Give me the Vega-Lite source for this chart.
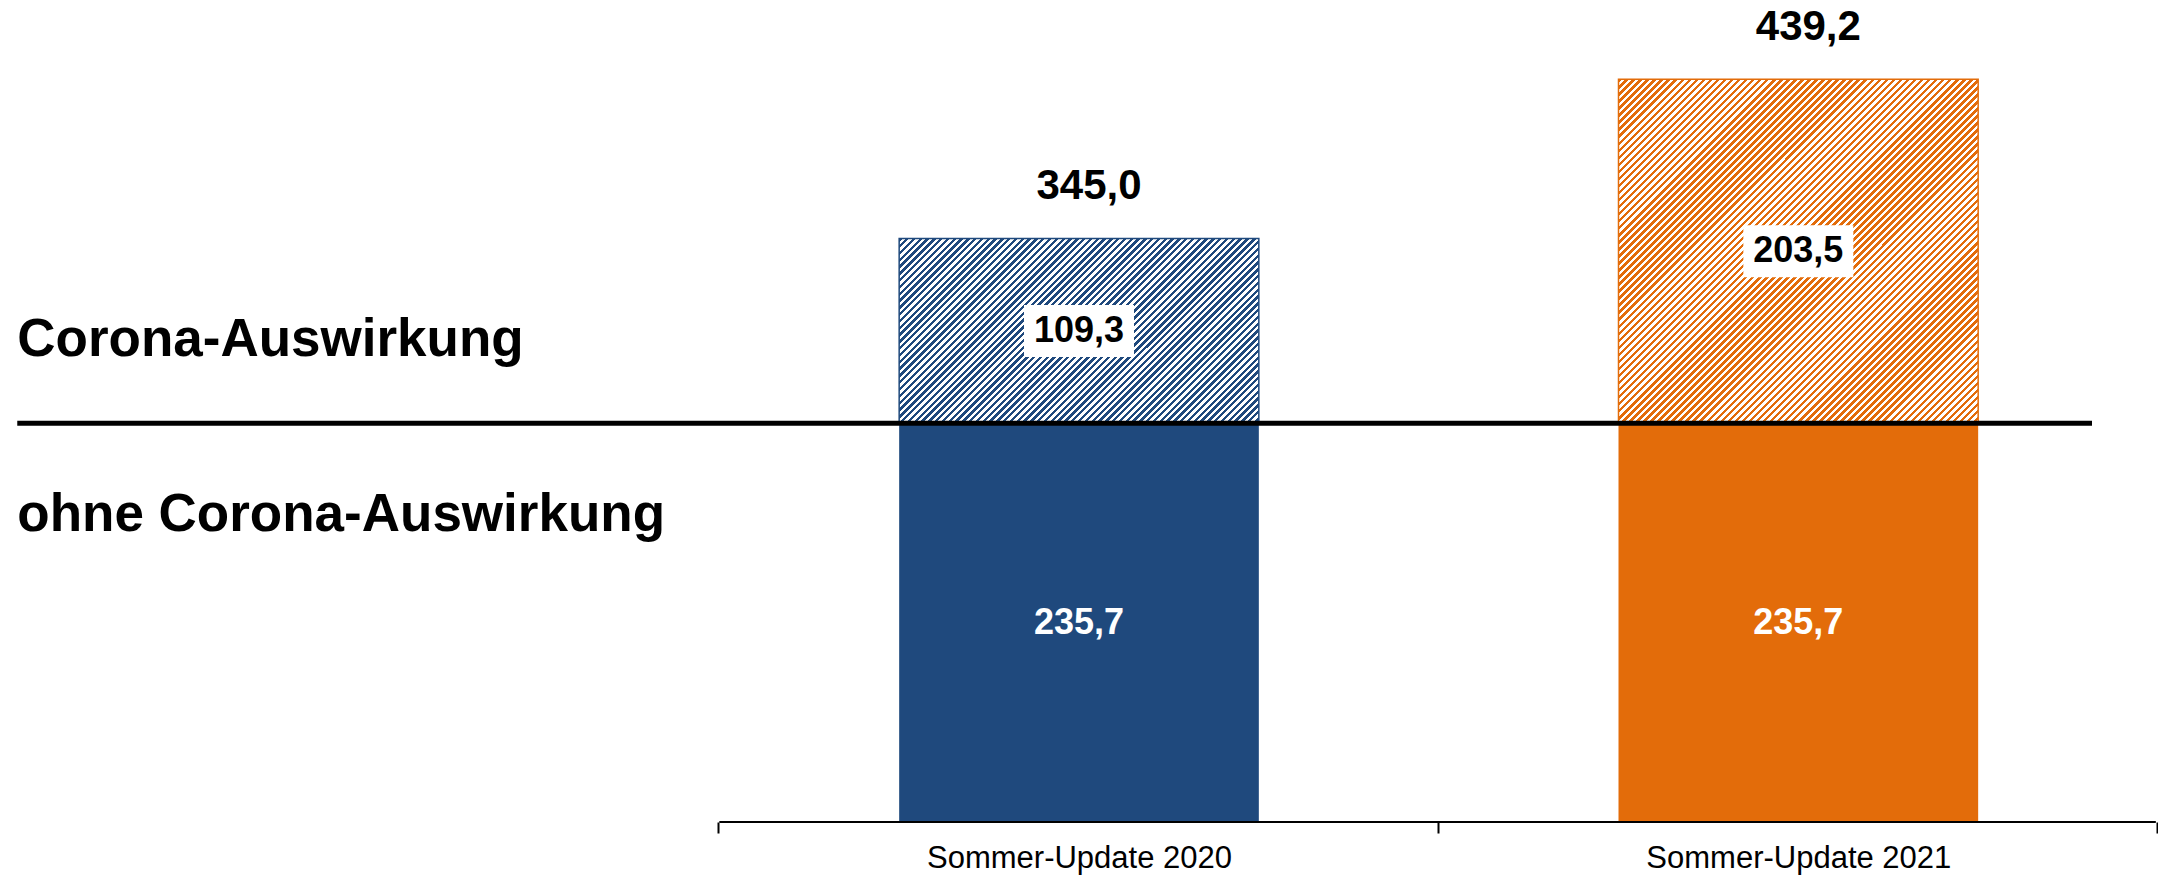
{
"$schema": "https://vega.github.io/schema/vega-lite/v6.json",
"width": 2158,
"height": 822,
"autosize": {"type": "none"},
"padding": {"left": 0, "top": 0, "right": 0, "bottom": 55},
"config": {
  "view": {"stroke": null},
  "locale": {"number": {"decimal": ",", "thousands": ".", "grouping": [3], "currency": ["", " €"]}},
  "axisX": {"domain": false, "grid": false, "tickSize": 11, "tickWidth": 2, "tickColor": "#000", "labelFont": "Liberation Sans", "labelFontSize": 31, "labelColor": "#000", "labelPadding": 10, "labelAngle": 0, "labelLimit": 0, "title": null}
},
"data": {"values": [
  {"jahr": "Sommer-Update 2020", "teil": "ohne", "wert": 235.7},
  {"jahr": "Sommer-Update 2020", "teil": "corona", "wert": 109.3},
  {"jahr": "Sommer-Update 2021", "teil": "ohne", "wert": 235.7},
  {"jahr": "Sommer-Update 2021", "teil": "corona", "wert": 203.5}
]},
"layer": [
  {
    "mark": {"type": "bar"},
    "encoding": {
      "x": {"field": "jahr", "type": "nominal", "scale": {"domain": ["label", "Sommer-Update 2020", "Sommer-Update 2021"], "paddingInner": 0.5, "paddingOuter": 0.25}, "axis": {"values": ["label", "Sommer-Update 2020", "Sommer-Update 2021"], "labelExpr": "datum.value === 'label' ? '' : datum.value", "tickOffset": 358.5, "labelOffset": -358.5, "title": null}},
      "y": {"field": "wert", "type": "quantitative", "stack": "zero", "scale": {"domain": [0, 486], "nice": false}, "axis": null},
      "detail": {"field": "teil", "type": "nominal"},
      "order": {"field": "teil", "type": "nominal", "sort": "descending"},
      "color": {"field": "jahr", "type": "nominal", "scale": {"domain": ["Sommer-Update 2020", "Sommer-Update 2021"], "range": ["#1f497d", "#e36c0a"]}, "legend": null},
      "opacity": {"condition": {"test": "datum.teil === 'ohne'", "value": 1}, "value": 0}
    }
  },
  {
    "mark": {"type": "bar", "stroke": "#1f497d", "strokeWidth": 1.5, "fill": {"gradient": "linear", "x1": 0, "y1": 0, "x2": 1.1976, "y2": 0.6156, "stops": [
{"offset":0,"color":"#1f497d"},{"offset":0.00625,"color":"#1f497d"},{"offset":0.00625,"color":"#fff"},{"offset":0.0125,"color":"#fff"},
{"offset":0.0125,"color":"#1f497d"},{"offset":0.01875,"color":"#1f497d"},{"offset":0.01875,"color":"#fff"},{"offset":0.025,"color":"#fff"},
{"offset":0.025,"color":"#1f497d"},{"offset":0.03125,"color":"#1f497d"},{"offset":0.03125,"color":"#fff"},{"offset":0.0375,"color":"#fff"},
{"offset":0.0375,"color":"#1f497d"},{"offset":0.04375,"color":"#1f497d"},{"offset":0.04375,"color":"#fff"},{"offset":0.05,"color":"#fff"},
{"offset":0.05,"color":"#1f497d"},{"offset":0.05625,"color":"#1f497d"},{"offset":0.05625,"color":"#fff"},{"offset":0.0625,"color":"#fff"},
{"offset":0.0625,"color":"#1f497d"},{"offset":0.06875,"color":"#1f497d"},{"offset":0.06875,"color":"#fff"},{"offset":0.075,"color":"#fff"},
{"offset":0.075,"color":"#1f497d"},{"offset":0.08125,"color":"#1f497d"},{"offset":0.08125,"color":"#fff"},{"offset":0.0875,"color":"#fff"},
{"offset":0.0875,"color":"#1f497d"},{"offset":0.09375,"color":"#1f497d"},{"offset":0.09375,"color":"#fff"},{"offset":0.1,"color":"#fff"},
{"offset":0.1,"color":"#1f497d"},{"offset":0.10625,"color":"#1f497d"},{"offset":0.10625,"color":"#fff"},{"offset":0.1125,"color":"#fff"},
{"offset":0.1125,"color":"#1f497d"},{"offset":0.11875,"color":"#1f497d"},{"offset":0.11875,"color":"#fff"},{"offset":0.125,"color":"#fff"},
{"offset":0.125,"color":"#1f497d"},{"offset":0.13125,"color":"#1f497d"},{"offset":0.13125,"color":"#fff"},{"offset":0.1375,"color":"#fff"},
{"offset":0.1375,"color":"#1f497d"},{"offset":0.14375,"color":"#1f497d"},{"offset":0.14375,"color":"#fff"},{"offset":0.15,"color":"#fff"},
{"offset":0.15,"color":"#1f497d"},{"offset":0.15625,"color":"#1f497d"},{"offset":0.15625,"color":"#fff"},{"offset":0.1625,"color":"#fff"},
{"offset":0.1625,"color":"#1f497d"},{"offset":0.16875,"color":"#1f497d"},{"offset":0.16875,"color":"#fff"},{"offset":0.175,"color":"#fff"},
{"offset":0.175,"color":"#1f497d"},{"offset":0.18125,"color":"#1f497d"},{"offset":0.18125,"color":"#fff"},{"offset":0.1875,"color":"#fff"},
{"offset":0.1875,"color":"#1f497d"},{"offset":0.19375,"color":"#1f497d"},{"offset":0.19375,"color":"#fff"},{"offset":0.2,"color":"#fff"},
{"offset":0.2,"color":"#1f497d"},{"offset":0.20625,"color":"#1f497d"},{"offset":0.20625,"color":"#fff"},{"offset":0.2125,"color":"#fff"},
{"offset":0.2125,"color":"#1f497d"},{"offset":0.21875,"color":"#1f497d"},{"offset":0.21875,"color":"#fff"},{"offset":0.225,"color":"#fff"},
{"offset":0.225,"color":"#1f497d"},{"offset":0.23125,"color":"#1f497d"},{"offset":0.23125,"color":"#fff"},{"offset":0.2375,"color":"#fff"},
{"offset":0.2375,"color":"#1f497d"},{"offset":0.24375,"color":"#1f497d"},{"offset":0.24375,"color":"#fff"},{"offset":0.25,"color":"#fff"},
{"offset":0.25,"color":"#1f497d"},{"offset":0.25625,"color":"#1f497d"},{"offset":0.25625,"color":"#fff"},{"offset":0.2625,"color":"#fff"},
{"offset":0.2625,"color":"#1f497d"},{"offset":0.26875,"color":"#1f497d"},{"offset":0.26875,"color":"#fff"},{"offset":0.275,"color":"#fff"},
{"offset":0.275,"color":"#1f497d"},{"offset":0.28125,"color":"#1f497d"},{"offset":0.28125,"color":"#fff"},{"offset":0.2875,"color":"#fff"},
{"offset":0.2875,"color":"#1f497d"},{"offset":0.29375,"color":"#1f497d"},{"offset":0.29375,"color":"#fff"},{"offset":0.3,"color":"#fff"},
{"offset":0.3,"color":"#1f497d"},{"offset":0.30625,"color":"#1f497d"},{"offset":0.30625,"color":"#fff"},{"offset":0.3125,"color":"#fff"},
{"offset":0.3125,"color":"#1f497d"},{"offset":0.31875,"color":"#1f497d"},{"offset":0.31875,"color":"#fff"},{"offset":0.325,"color":"#fff"},
{"offset":0.325,"color":"#1f497d"},{"offset":0.33125,"color":"#1f497d"},{"offset":0.33125,"color":"#fff"},{"offset":0.3375,"color":"#fff"},
{"offset":0.3375,"color":"#1f497d"},{"offset":0.34375,"color":"#1f497d"},{"offset":0.34375,"color":"#fff"},{"offset":0.35,"color":"#fff"},
{"offset":0.35,"color":"#1f497d"},{"offset":0.35625,"color":"#1f497d"},{"offset":0.35625,"color":"#fff"},{"offset":0.3625,"color":"#fff"},
{"offset":0.3625,"color":"#1f497d"},{"offset":0.36875,"color":"#1f497d"},{"offset":0.36875,"color":"#fff"},{"offset":0.375,"color":"#fff"},
{"offset":0.375,"color":"#1f497d"},{"offset":0.38125,"color":"#1f497d"},{"offset":0.38125,"color":"#fff"},{"offset":0.3875,"color":"#fff"},
{"offset":0.3875,"color":"#1f497d"},{"offset":0.39375,"color":"#1f497d"},{"offset":0.39375,"color":"#fff"},{"offset":0.4,"color":"#fff"},
{"offset":0.4,"color":"#1f497d"},{"offset":0.40625,"color":"#1f497d"},{"offset":0.40625,"color":"#fff"},{"offset":0.4125,"color":"#fff"},
{"offset":0.4125,"color":"#1f497d"},{"offset":0.41875,"color":"#1f497d"},{"offset":0.41875,"color":"#fff"},{"offset":0.425,"color":"#fff"},
{"offset":0.425,"color":"#1f497d"},{"offset":0.43125,"color":"#1f497d"},{"offset":0.43125,"color":"#fff"},{"offset":0.4375,"color":"#fff"},
{"offset":0.4375,"color":"#1f497d"},{"offset":0.44375,"color":"#1f497d"},{"offset":0.44375,"color":"#fff"},{"offset":0.45,"color":"#fff"},
{"offset":0.45,"color":"#1f497d"},{"offset":0.45625,"color":"#1f497d"},{"offset":0.45625,"color":"#fff"},{"offset":0.4625,"color":"#fff"},
{"offset":0.4625,"color":"#1f497d"},{"offset":0.46875,"color":"#1f497d"},{"offset":0.46875,"color":"#fff"},{"offset":0.475,"color":"#fff"},
{"offset":0.475,"color":"#1f497d"},{"offset":0.48125,"color":"#1f497d"},{"offset":0.48125,"color":"#fff"},{"offset":0.4875,"color":"#fff"},
{"offset":0.4875,"color":"#1f497d"},{"offset":0.49375,"color":"#1f497d"},{"offset":0.49375,"color":"#fff"},{"offset":0.5,"color":"#fff"},
{"offset":0.5,"color":"#1f497d"},{"offset":0.50625,"color":"#1f497d"},{"offset":0.50625,"color":"#fff"},{"offset":0.5125,"color":"#fff"},
{"offset":0.5125,"color":"#1f497d"},{"offset":0.51875,"color":"#1f497d"},{"offset":0.51875,"color":"#fff"},{"offset":0.525,"color":"#fff"},
{"offset":0.525,"color":"#1f497d"},{"offset":0.53125,"color":"#1f497d"},{"offset":0.53125,"color":"#fff"},{"offset":0.5375,"color":"#fff"},
{"offset":0.5375,"color":"#1f497d"},{"offset":0.54375,"color":"#1f497d"},{"offset":0.54375,"color":"#fff"},{"offset":0.55,"color":"#fff"},
{"offset":0.55,"color":"#1f497d"},{"offset":0.55625,"color":"#1f497d"},{"offset":0.55625,"color":"#fff"},{"offset":0.5625,"color":"#fff"},
{"offset":0.5625,"color":"#1f497d"},{"offset":0.56875,"color":"#1f497d"},{"offset":0.56875,"color":"#fff"},{"offset":0.575,"color":"#fff"},
{"offset":0.575,"color":"#1f497d"},{"offset":0.58125,"color":"#1f497d"},{"offset":0.58125,"color":"#fff"},{"offset":0.5875,"color":"#fff"},
{"offset":0.5875,"color":"#1f497d"},{"offset":0.59375,"color":"#1f497d"},{"offset":0.59375,"color":"#fff"},{"offset":0.6,"color":"#fff"},
{"offset":0.6,"color":"#1f497d"},{"offset":0.60625,"color":"#1f497d"},{"offset":0.60625,"color":"#fff"},{"offset":0.6125,"color":"#fff"},
{"offset":0.6125,"color":"#1f497d"},{"offset":0.61875,"color":"#1f497d"},{"offset":0.61875,"color":"#fff"},{"offset":0.625,"color":"#fff"},
{"offset":0.625,"color":"#1f497d"},{"offset":0.63125,"color":"#1f497d"},{"offset":0.63125,"color":"#fff"},{"offset":0.6375,"color":"#fff"},
{"offset":0.6375,"color":"#1f497d"},{"offset":0.64375,"color":"#1f497d"},{"offset":0.64375,"color":"#fff"},{"offset":0.65,"color":"#fff"},
{"offset":0.65,"color":"#1f497d"},{"offset":0.65625,"color":"#1f497d"},{"offset":0.65625,"color":"#fff"},{"offset":0.6625,"color":"#fff"},
{"offset":0.6625,"color":"#1f497d"},{"offset":0.66875,"color":"#1f497d"},{"offset":0.66875,"color":"#fff"},{"offset":0.675,"color":"#fff"},
{"offset":0.675,"color":"#1f497d"},{"offset":0.68125,"color":"#1f497d"},{"offset":0.68125,"color":"#fff"},{"offset":0.6875,"color":"#fff"},
{"offset":0.6875,"color":"#1f497d"},{"offset":0.69375,"color":"#1f497d"},{"offset":0.69375,"color":"#fff"},{"offset":0.7,"color":"#fff"},
{"offset":0.7,"color":"#1f497d"},{"offset":0.70625,"color":"#1f497d"},{"offset":0.70625,"color":"#fff"},{"offset":0.7125,"color":"#fff"},
{"offset":0.7125,"color":"#1f497d"},{"offset":0.71875,"color":"#1f497d"},{"offset":0.71875,"color":"#fff"},{"offset":0.725,"color":"#fff"},
{"offset":0.725,"color":"#1f497d"},{"offset":0.73125,"color":"#1f497d"},{"offset":0.73125,"color":"#fff"},{"offset":0.7375,"color":"#fff"},
{"offset":0.7375,"color":"#1f497d"},{"offset":0.74375,"color":"#1f497d"},{"offset":0.74375,"color":"#fff"},{"offset":0.75,"color":"#fff"},
{"offset":0.75,"color":"#1f497d"},{"offset":0.75625,"color":"#1f497d"},{"offset":0.75625,"color":"#fff"},{"offset":0.7625,"color":"#fff"},
{"offset":0.7625,"color":"#1f497d"},{"offset":0.76875,"color":"#1f497d"},{"offset":0.76875,"color":"#fff"},{"offset":0.775,"color":"#fff"},
{"offset":0.775,"color":"#1f497d"},{"offset":0.78125,"color":"#1f497d"},{"offset":0.78125,"color":"#fff"},{"offset":0.7875,"color":"#fff"},
{"offset":0.7875,"color":"#1f497d"},{"offset":0.79375,"color":"#1f497d"},{"offset":0.79375,"color":"#fff"},{"offset":0.8,"color":"#fff"},
{"offset":0.8,"color":"#1f497d"},{"offset":0.80625,"color":"#1f497d"},{"offset":0.80625,"color":"#fff"},{"offset":0.8125,"color":"#fff"},
{"offset":0.8125,"color":"#1f497d"},{"offset":0.81875,"color":"#1f497d"},{"offset":0.81875,"color":"#fff"},{"offset":0.825,"color":"#fff"},
{"offset":0.825,"color":"#1f497d"},{"offset":0.83125,"color":"#1f497d"},{"offset":0.83125,"color":"#fff"},{"offset":0.8375,"color":"#fff"},
{"offset":0.8375,"color":"#1f497d"},{"offset":0.84375,"color":"#1f497d"},{"offset":0.84375,"color":"#fff"},{"offset":0.85,"color":"#fff"},
{"offset":0.85,"color":"#1f497d"},{"offset":0.85625,"color":"#1f497d"},{"offset":0.85625,"color":"#fff"},{"offset":0.8625,"color":"#fff"},
{"offset":0.8625,"color":"#1f497d"},{"offset":0.86875,"color":"#1f497d"},{"offset":0.86875,"color":"#fff"},{"offset":0.875,"color":"#fff"},
{"offset":0.875,"color":"#1f497d"},{"offset":0.88125,"color":"#1f497d"},{"offset":0.88125,"color":"#fff"},{"offset":0.8875,"color":"#fff"},
{"offset":0.8875,"color":"#1f497d"},{"offset":0.89375,"color":"#1f497d"},{"offset":0.89375,"color":"#fff"},{"offset":0.9,"color":"#fff"},
{"offset":0.9,"color":"#1f497d"},{"offset":0.90625,"color":"#1f497d"},{"offset":0.90625,"color":"#fff"},{"offset":0.9125,"color":"#fff"},
{"offset":0.9125,"color":"#1f497d"},{"offset":0.91875,"color":"#1f497d"},{"offset":0.91875,"color":"#fff"},{"offset":0.925,"color":"#fff"},
{"offset":0.925,"color":"#1f497d"},{"offset":0.93125,"color":"#1f497d"},{"offset":0.93125,"color":"#fff"},{"offset":0.9375,"color":"#fff"},
{"offset":0.9375,"color":"#1f497d"},{"offset":0.94375,"color":"#1f497d"},{"offset":0.94375,"color":"#fff"},{"offset":0.95,"color":"#fff"},
{"offset":0.95,"color":"#1f497d"},{"offset":0.95625,"color":"#1f497d"},{"offset":0.95625,"color":"#fff"},{"offset":0.9625,"color":"#fff"},
{"offset":0.9625,"color":"#1f497d"},{"offset":0.96875,"color":"#1f497d"},{"offset":0.96875,"color":"#fff"},{"offset":0.975,"color":"#fff"},
{"offset":0.975,"color":"#1f497d"},{"offset":0.98125,"color":"#1f497d"},{"offset":0.98125,"color":"#fff"},{"offset":0.9875,"color":"#fff"},
{"offset":0.9875,"color":"#1f497d"},{"offset":0.99375,"color":"#1f497d"},{"offset":0.99375,"color":"#fff"},{"offset":1,"color":"#fff"}
    ]}},
    "encoding": {
      "x": {"field": "jahr", "type": "nominal"},
      "y": {"field": "wert", "type": "quantitative", "stack": "zero", "axis": null},
      "detail": {"field": "teil", "type": "nominal"},
      "order": {"field": "teil", "type": "nominal", "sort": "descending"},
      "opacity": {"condition": {"test": "datum.teil === 'corona' && datum.jahr === 'Sommer-Update 2020'", "value": 1}, "value": 0}
    }
  },
  {
    "mark": {"type": "bar", "stroke": "#e36c0a", "strokeWidth": 1.5, "fill": {"gradient": "linear", "x1": 0, "y1": 0, "x2": 1.0215, "y2": 0.9775, "stops": [
{"offset":0,"color":"#e36c0a"},{"offset":0.005,"color":"#e36c0a"},{"offset":0.005,"color":"#fff"},{"offset":0.01,"color":"#fff"},
{"offset":0.01,"color":"#e36c0a"},{"offset":0.015,"color":"#e36c0a"},{"offset":0.015,"color":"#fff"},{"offset":0.02,"color":"#fff"},
{"offset":0.02,"color":"#e36c0a"},{"offset":0.025,"color":"#e36c0a"},{"offset":0.025,"color":"#fff"},{"offset":0.03,"color":"#fff"},
{"offset":0.03,"color":"#e36c0a"},{"offset":0.035,"color":"#e36c0a"},{"offset":0.035,"color":"#fff"},{"offset":0.04,"color":"#fff"},
{"offset":0.04,"color":"#e36c0a"},{"offset":0.045,"color":"#e36c0a"},{"offset":0.045,"color":"#fff"},{"offset":0.05,"color":"#fff"},
{"offset":0.05,"color":"#e36c0a"},{"offset":0.055,"color":"#e36c0a"},{"offset":0.055,"color":"#fff"},{"offset":0.06,"color":"#fff"},
{"offset":0.06,"color":"#e36c0a"},{"offset":0.065,"color":"#e36c0a"},{"offset":0.065,"color":"#fff"},{"offset":0.07,"color":"#fff"},
{"offset":0.07,"color":"#e36c0a"},{"offset":0.075,"color":"#e36c0a"},{"offset":0.075,"color":"#fff"},{"offset":0.08,"color":"#fff"},
{"offset":0.08,"color":"#e36c0a"},{"offset":0.085,"color":"#e36c0a"},{"offset":0.085,"color":"#fff"},{"offset":0.09,"color":"#fff"},
{"offset":0.09,"color":"#e36c0a"},{"offset":0.095,"color":"#e36c0a"},{"offset":0.095,"color":"#fff"},{"offset":0.1,"color":"#fff"},
{"offset":0.1,"color":"#e36c0a"},{"offset":0.105,"color":"#e36c0a"},{"offset":0.105,"color":"#fff"},{"offset":0.11,"color":"#fff"},
{"offset":0.11,"color":"#e36c0a"},{"offset":0.115,"color":"#e36c0a"},{"offset":0.115,"color":"#fff"},{"offset":0.12,"color":"#fff"},
{"offset":0.12,"color":"#e36c0a"},{"offset":0.125,"color":"#e36c0a"},{"offset":0.125,"color":"#fff"},{"offset":0.13,"color":"#fff"},
{"offset":0.13,"color":"#e36c0a"},{"offset":0.135,"color":"#e36c0a"},{"offset":0.135,"color":"#fff"},{"offset":0.14,"color":"#fff"},
{"offset":0.14,"color":"#e36c0a"},{"offset":0.145,"color":"#e36c0a"},{"offset":0.145,"color":"#fff"},{"offset":0.15,"color":"#fff"},
{"offset":0.15,"color":"#e36c0a"},{"offset":0.155,"color":"#e36c0a"},{"offset":0.155,"color":"#fff"},{"offset":0.16,"color":"#fff"},
{"offset":0.16,"color":"#e36c0a"},{"offset":0.165,"color":"#e36c0a"},{"offset":0.165,"color":"#fff"},{"offset":0.17,"color":"#fff"},
{"offset":0.17,"color":"#e36c0a"},{"offset":0.175,"color":"#e36c0a"},{"offset":0.175,"color":"#fff"},{"offset":0.18,"color":"#fff"},
{"offset":0.18,"color":"#e36c0a"},{"offset":0.185,"color":"#e36c0a"},{"offset":0.185,"color":"#fff"},{"offset":0.19,"color":"#fff"},
{"offset":0.19,"color":"#e36c0a"},{"offset":0.195,"color":"#e36c0a"},{"offset":0.195,"color":"#fff"},{"offset":0.2,"color":"#fff"},
{"offset":0.2,"color":"#e36c0a"},{"offset":0.205,"color":"#e36c0a"},{"offset":0.205,"color":"#fff"},{"offset":0.21,"color":"#fff"},
{"offset":0.21,"color":"#e36c0a"},{"offset":0.215,"color":"#e36c0a"},{"offset":0.215,"color":"#fff"},{"offset":0.22,"color":"#fff"},
{"offset":0.22,"color":"#e36c0a"},{"offset":0.225,"color":"#e36c0a"},{"offset":0.225,"color":"#fff"},{"offset":0.23,"color":"#fff"},
{"offset":0.23,"color":"#e36c0a"},{"offset":0.235,"color":"#e36c0a"},{"offset":0.235,"color":"#fff"},{"offset":0.24,"color":"#fff"},
{"offset":0.24,"color":"#e36c0a"},{"offset":0.245,"color":"#e36c0a"},{"offset":0.245,"color":"#fff"},{"offset":0.25,"color":"#fff"},
{"offset":0.25,"color":"#e36c0a"},{"offset":0.255,"color":"#e36c0a"},{"offset":0.255,"color":"#fff"},{"offset":0.26,"color":"#fff"},
{"offset":0.26,"color":"#e36c0a"},{"offset":0.265,"color":"#e36c0a"},{"offset":0.265,"color":"#fff"},{"offset":0.27,"color":"#fff"},
{"offset":0.27,"color":"#e36c0a"},{"offset":0.275,"color":"#e36c0a"},{"offset":0.275,"color":"#fff"},{"offset":0.28,"color":"#fff"},
{"offset":0.28,"color":"#e36c0a"},{"offset":0.285,"color":"#e36c0a"},{"offset":0.285,"color":"#fff"},{"offset":0.29,"color":"#fff"},
{"offset":0.29,"color":"#e36c0a"},{"offset":0.295,"color":"#e36c0a"},{"offset":0.295,"color":"#fff"},{"offset":0.3,"color":"#fff"},
{"offset":0.3,"color":"#e36c0a"},{"offset":0.305,"color":"#e36c0a"},{"offset":0.305,"color":"#fff"},{"offset":0.31,"color":"#fff"},
{"offset":0.31,"color":"#e36c0a"},{"offset":0.315,"color":"#e36c0a"},{"offset":0.315,"color":"#fff"},{"offset":0.32,"color":"#fff"},
{"offset":0.32,"color":"#e36c0a"},{"offset":0.325,"color":"#e36c0a"},{"offset":0.325,"color":"#fff"},{"offset":0.33,"color":"#fff"},
{"offset":0.33,"color":"#e36c0a"},{"offset":0.335,"color":"#e36c0a"},{"offset":0.335,"color":"#fff"},{"offset":0.34,"color":"#fff"},
{"offset":0.34,"color":"#e36c0a"},{"offset":0.345,"color":"#e36c0a"},{"offset":0.345,"color":"#fff"},{"offset":0.35,"color":"#fff"},
{"offset":0.35,"color":"#e36c0a"},{"offset":0.355,"color":"#e36c0a"},{"offset":0.355,"color":"#fff"},{"offset":0.36,"color":"#fff"},
{"offset":0.36,"color":"#e36c0a"},{"offset":0.365,"color":"#e36c0a"},{"offset":0.365,"color":"#fff"},{"offset":0.37,"color":"#fff"},
{"offset":0.37,"color":"#e36c0a"},{"offset":0.375,"color":"#e36c0a"},{"offset":0.375,"color":"#fff"},{"offset":0.38,"color":"#fff"},
{"offset":0.38,"color":"#e36c0a"},{"offset":0.385,"color":"#e36c0a"},{"offset":0.385,"color":"#fff"},{"offset":0.39,"color":"#fff"},
{"offset":0.39,"color":"#e36c0a"},{"offset":0.395,"color":"#e36c0a"},{"offset":0.395,"color":"#fff"},{"offset":0.4,"color":"#fff"},
{"offset":0.4,"color":"#e36c0a"},{"offset":0.405,"color":"#e36c0a"},{"offset":0.405,"color":"#fff"},{"offset":0.41,"color":"#fff"},
{"offset":0.41,"color":"#e36c0a"},{"offset":0.415,"color":"#e36c0a"},{"offset":0.415,"color":"#fff"},{"offset":0.42,"color":"#fff"},
{"offset":0.42,"color":"#e36c0a"},{"offset":0.425,"color":"#e36c0a"},{"offset":0.425,"color":"#fff"},{"offset":0.43,"color":"#fff"},
{"offset":0.43,"color":"#e36c0a"},{"offset":0.435,"color":"#e36c0a"},{"offset":0.435,"color":"#fff"},{"offset":0.44,"color":"#fff"},
{"offset":0.44,"color":"#e36c0a"},{"offset":0.445,"color":"#e36c0a"},{"offset":0.445,"color":"#fff"},{"offset":0.45,"color":"#fff"},
{"offset":0.45,"color":"#e36c0a"},{"offset":0.455,"color":"#e36c0a"},{"offset":0.455,"color":"#fff"},{"offset":0.46,"color":"#fff"},
{"offset":0.46,"color":"#e36c0a"},{"offset":0.465,"color":"#e36c0a"},{"offset":0.465,"color":"#fff"},{"offset":0.47,"color":"#fff"},
{"offset":0.47,"color":"#e36c0a"},{"offset":0.475,"color":"#e36c0a"},{"offset":0.475,"color":"#fff"},{"offset":0.48,"color":"#fff"},
{"offset":0.48,"color":"#e36c0a"},{"offset":0.485,"color":"#e36c0a"},{"offset":0.485,"color":"#fff"},{"offset":0.49,"color":"#fff"},
{"offset":0.49,"color":"#e36c0a"},{"offset":0.495,"color":"#e36c0a"},{"offset":0.495,"color":"#fff"},{"offset":0.5,"color":"#fff"},
{"offset":0.5,"color":"#e36c0a"},{"offset":0.505,"color":"#e36c0a"},{"offset":0.505,"color":"#fff"},{"offset":0.51,"color":"#fff"},
{"offset":0.51,"color":"#e36c0a"},{"offset":0.515,"color":"#e36c0a"},{"offset":0.515,"color":"#fff"},{"offset":0.52,"color":"#fff"},
{"offset":0.52,"color":"#e36c0a"},{"offset":0.525,"color":"#e36c0a"},{"offset":0.525,"color":"#fff"},{"offset":0.53,"color":"#fff"},
{"offset":0.53,"color":"#e36c0a"},{"offset":0.535,"color":"#e36c0a"},{"offset":0.535,"color":"#fff"},{"offset":0.54,"color":"#fff"},
{"offset":0.54,"color":"#e36c0a"},{"offset":0.545,"color":"#e36c0a"},{"offset":0.545,"color":"#fff"},{"offset":0.55,"color":"#fff"},
{"offset":0.55,"color":"#e36c0a"},{"offset":0.555,"color":"#e36c0a"},{"offset":0.555,"color":"#fff"},{"offset":0.56,"color":"#fff"},
{"offset":0.56,"color":"#e36c0a"},{"offset":0.565,"color":"#e36c0a"},{"offset":0.565,"color":"#fff"},{"offset":0.57,"color":"#fff"},
{"offset":0.57,"color":"#e36c0a"},{"offset":0.575,"color":"#e36c0a"},{"offset":0.575,"color":"#fff"},{"offset":0.58,"color":"#fff"},
{"offset":0.58,"color":"#e36c0a"},{"offset":0.585,"color":"#e36c0a"},{"offset":0.585,"color":"#fff"},{"offset":0.59,"color":"#fff"},
{"offset":0.59,"color":"#e36c0a"},{"offset":0.595,"color":"#e36c0a"},{"offset":0.595,"color":"#fff"},{"offset":0.6,"color":"#fff"},
{"offset":0.6,"color":"#e36c0a"},{"offset":0.605,"color":"#e36c0a"},{"offset":0.605,"color":"#fff"},{"offset":0.61,"color":"#fff"},
{"offset":0.61,"color":"#e36c0a"},{"offset":0.615,"color":"#e36c0a"},{"offset":0.615,"color":"#fff"},{"offset":0.62,"color":"#fff"},
{"offset":0.62,"color":"#e36c0a"},{"offset":0.625,"color":"#e36c0a"},{"offset":0.625,"color":"#fff"},{"offset":0.63,"color":"#fff"},
{"offset":0.63,"color":"#e36c0a"},{"offset":0.635,"color":"#e36c0a"},{"offset":0.635,"color":"#fff"},{"offset":0.64,"color":"#fff"},
{"offset":0.64,"color":"#e36c0a"},{"offset":0.645,"color":"#e36c0a"},{"offset":0.645,"color":"#fff"},{"offset":0.65,"color":"#fff"},
{"offset":0.65,"color":"#e36c0a"},{"offset":0.655,"color":"#e36c0a"},{"offset":0.655,"color":"#fff"},{"offset":0.66,"color":"#fff"},
{"offset":0.66,"color":"#e36c0a"},{"offset":0.665,"color":"#e36c0a"},{"offset":0.665,"color":"#fff"},{"offset":0.67,"color":"#fff"},
{"offset":0.67,"color":"#e36c0a"},{"offset":0.675,"color":"#e36c0a"},{"offset":0.675,"color":"#fff"},{"offset":0.68,"color":"#fff"},
{"offset":0.68,"color":"#e36c0a"},{"offset":0.685,"color":"#e36c0a"},{"offset":0.685,"color":"#fff"},{"offset":0.69,"color":"#fff"},
{"offset":0.69,"color":"#e36c0a"},{"offset":0.695,"color":"#e36c0a"},{"offset":0.695,"color":"#fff"},{"offset":0.7,"color":"#fff"},
{"offset":0.7,"color":"#e36c0a"},{"offset":0.705,"color":"#e36c0a"},{"offset":0.705,"color":"#fff"},{"offset":0.71,"color":"#fff"},
{"offset":0.71,"color":"#e36c0a"},{"offset":0.715,"color":"#e36c0a"},{"offset":0.715,"color":"#fff"},{"offset":0.72,"color":"#fff"},
{"offset":0.72,"color":"#e36c0a"},{"offset":0.725,"color":"#e36c0a"},{"offset":0.725,"color":"#fff"},{"offset":0.73,"color":"#fff"},
{"offset":0.73,"color":"#e36c0a"},{"offset":0.735,"color":"#e36c0a"},{"offset":0.735,"color":"#fff"},{"offset":0.74,"color":"#fff"},
{"offset":0.74,"color":"#e36c0a"},{"offset":0.745,"color":"#e36c0a"},{"offset":0.745,"color":"#fff"},{"offset":0.75,"color":"#fff"},
{"offset":0.75,"color":"#e36c0a"},{"offset":0.755,"color":"#e36c0a"},{"offset":0.755,"color":"#fff"},{"offset":0.76,"color":"#fff"},
{"offset":0.76,"color":"#e36c0a"},{"offset":0.765,"color":"#e36c0a"},{"offset":0.765,"color":"#fff"},{"offset":0.77,"color":"#fff"},
{"offset":0.77,"color":"#e36c0a"},{"offset":0.775,"color":"#e36c0a"},{"offset":0.775,"color":"#fff"},{"offset":0.78,"color":"#fff"},
{"offset":0.78,"color":"#e36c0a"},{"offset":0.785,"color":"#e36c0a"},{"offset":0.785,"color":"#fff"},{"offset":0.79,"color":"#fff"},
{"offset":0.79,"color":"#e36c0a"},{"offset":0.795,"color":"#e36c0a"},{"offset":0.795,"color":"#fff"},{"offset":0.8,"color":"#fff"},
{"offset":0.8,"color":"#e36c0a"},{"offset":0.805,"color":"#e36c0a"},{"offset":0.805,"color":"#fff"},{"offset":0.81,"color":"#fff"},
{"offset":0.81,"color":"#e36c0a"},{"offset":0.815,"color":"#e36c0a"},{"offset":0.815,"color":"#fff"},{"offset":0.82,"color":"#fff"},
{"offset":0.82,"color":"#e36c0a"},{"offset":0.825,"color":"#e36c0a"},{"offset":0.825,"color":"#fff"},{"offset":0.83,"color":"#fff"},
{"offset":0.83,"color":"#e36c0a"},{"offset":0.835,"color":"#e36c0a"},{"offset":0.835,"color":"#fff"},{"offset":0.84,"color":"#fff"},
{"offset":0.84,"color":"#e36c0a"},{"offset":0.845,"color":"#e36c0a"},{"offset":0.845,"color":"#fff"},{"offset":0.85,"color":"#fff"},
{"offset":0.85,"color":"#e36c0a"},{"offset":0.855,"color":"#e36c0a"},{"offset":0.855,"color":"#fff"},{"offset":0.86,"color":"#fff"},
{"offset":0.86,"color":"#e36c0a"},{"offset":0.865,"color":"#e36c0a"},{"offset":0.865,"color":"#fff"},{"offset":0.87,"color":"#fff"},
{"offset":0.87,"color":"#e36c0a"},{"offset":0.875,"color":"#e36c0a"},{"offset":0.875,"color":"#fff"},{"offset":0.88,"color":"#fff"},
{"offset":0.88,"color":"#e36c0a"},{"offset":0.885,"color":"#e36c0a"},{"offset":0.885,"color":"#fff"},{"offset":0.89,"color":"#fff"},
{"offset":0.89,"color":"#e36c0a"},{"offset":0.895,"color":"#e36c0a"},{"offset":0.895,"color":"#fff"},{"offset":0.9,"color":"#fff"},
{"offset":0.9,"color":"#e36c0a"},{"offset":0.905,"color":"#e36c0a"},{"offset":0.905,"color":"#fff"},{"offset":0.91,"color":"#fff"},
{"offset":0.91,"color":"#e36c0a"},{"offset":0.915,"color":"#e36c0a"},{"offset":0.915,"color":"#fff"},{"offset":0.92,"color":"#fff"},
{"offset":0.92,"color":"#e36c0a"},{"offset":0.925,"color":"#e36c0a"},{"offset":0.925,"color":"#fff"},{"offset":0.93,"color":"#fff"},
{"offset":0.93,"color":"#e36c0a"},{"offset":0.935,"color":"#e36c0a"},{"offset":0.935,"color":"#fff"},{"offset":0.94,"color":"#fff"},
{"offset":0.94,"color":"#e36c0a"},{"offset":0.945,"color":"#e36c0a"},{"offset":0.945,"color":"#fff"},{"offset":0.95,"color":"#fff"},
{"offset":0.95,"color":"#e36c0a"},{"offset":0.955,"color":"#e36c0a"},{"offset":0.955,"color":"#fff"},{"offset":0.96,"color":"#fff"},
{"offset":0.96,"color":"#e36c0a"},{"offset":0.965,"color":"#e36c0a"},{"offset":0.965,"color":"#fff"},{"offset":0.97,"color":"#fff"},
{"offset":0.97,"color":"#e36c0a"},{"offset":0.975,"color":"#e36c0a"},{"offset":0.975,"color":"#fff"},{"offset":0.98,"color":"#fff"},
{"offset":0.98,"color":"#e36c0a"},{"offset":0.985,"color":"#e36c0a"},{"offset":0.985,"color":"#fff"},{"offset":0.99,"color":"#fff"},
{"offset":0.99,"color":"#e36c0a"},{"offset":0.995,"color":"#e36c0a"},{"offset":0.995,"color":"#fff"},{"offset":1,"color":"#fff"}
    ]}},
    "encoding": {
      "x": {"field": "jahr", "type": "nominal"},
      "y": {"field": "wert", "type": "quantitative", "stack": "zero", "axis": null},
      "detail": {"field": "teil", "type": "nominal"},
      "order": {"field": "teil", "type": "nominal", "sort": "descending"},
      "opacity": {"condition": {"test": "datum.teil === 'corona' && datum.jahr === 'Sommer-Update 2021'", "value": 1}, "value": 0}
    }
  },
  {
    "mark": {"type": "point", "shape": "M-1,-0.4727L1,-0.4727L1,0.4727L-1,0.4727Z", "size": 12100, "filled": true, "color": "#ffffff", "strokeWidth": 0},
    "encoding": {
      "x": {"field": "jahr", "type": "nominal"},
      "y": {"field": "wert", "type": "quantitative", "stack": "zero", "bandPosition": 0.5, "axis": null},
      "detail": {"field": "teil", "type": "nominal"},
      "order": {"field": "teil", "type": "nominal", "sort": "descending"},
      "opacity": {"condition": {"test": "datum.teil === 'corona'", "value": 1}, "value": 0}
    }
  },
  {
    "mark": {"type": "text", "font": "Liberation Sans", "fontWeight": "bold", "fontSize": 36, "baseline": "middle", "align": "center"},
    "encoding": {
      "x": {"field": "jahr", "type": "nominal"},
      "y": {"field": "wert", "type": "quantitative", "stack": "zero", "bandPosition": 0.5, "axis": null},
      "detail": {"field": "teil", "type": "nominal"},
      "order": {"field": "teil", "type": "nominal", "sort": "descending"},
      "text": {"field": "wert", "type": "quantitative", "format": ".1f"},
      "color": {"condition": {"test": "datum.teil === 'ohne'", "value": "#ffffff"}, "value": "#000000"}
    }
  },
  {
    "mark": {"type": "text", "font": "Liberation Sans", "fontWeight": "bold", "fontSize": 42, "baseline": "alphabetic", "align": "center", "dy": -39, "dx": 10, "color": "#000000"},
    "encoding": {
      "x": {"field": "jahr", "type": "nominal"},
      "y": {"aggregate": "sum", "field": "wert", "type": "quantitative", "axis": null},
      "text": {"aggregate": "sum", "field": "wert", "type": "quantitative", "format": ".1f"}
    }
  },
  {
    "data": {"values": [{}]},
    "mark": {"type": "text", "text": "Corona-Auswirkung", "font": "Liberation Sans", "fontWeight": "bold", "fontSize": 53, "baseline": "alphabetic", "align": "left", "color": "#000000"},
    "encoding": {
      "x": {"datum": "label", "type": "nominal", "bandPosition": -0.452},
      "y": {"datum": 275.5, "type": "quantitative", "axis": null}
    }
  },
  {
    "data": {"values": [{}]},
    "mark": {"type": "text", "text": "ohne Corona-Auswirkung", "font": "Liberation Sans", "fontWeight": "bold", "fontSize": 53, "baseline": "alphabetic", "align": "left", "color": "#000000"},
    "encoding": {
      "x": {"datum": "label", "type": "nominal", "bandPosition": -0.452},
      "y": {"datum": 172.05, "type": "quantitative", "axis": null}
    }
  },
  {
    "data": {"values": [{}]},
    "mark": {"type": "rule", "color": "#000000", "strokeWidth": 5},
    "encoding": {
      "x": {"datum": "label", "type": "nominal", "bandPosition": -0.452},
      "x2": {"datum": "Sommer-Update 2021", "bandPosition": 1.3165},
      "y": {"datum": 235.7, "type": "quantitative", "axis": null}
    }
  },
  {
    "data": {"values": [{}]},
    "mark": {"type": "rule", "color": "#000000", "strokeWidth": 2},
    "encoding": {
      "x": {"datum": "Sommer-Update 2020", "type": "nominal", "bandPosition": -0.5},
      "x2": {"datum": "Sommer-Update 2021", "bandPosition": 1.494},
      "y": {"datum": 0, "type": "quantitative", "axis": null}
    }
  }
]
}
